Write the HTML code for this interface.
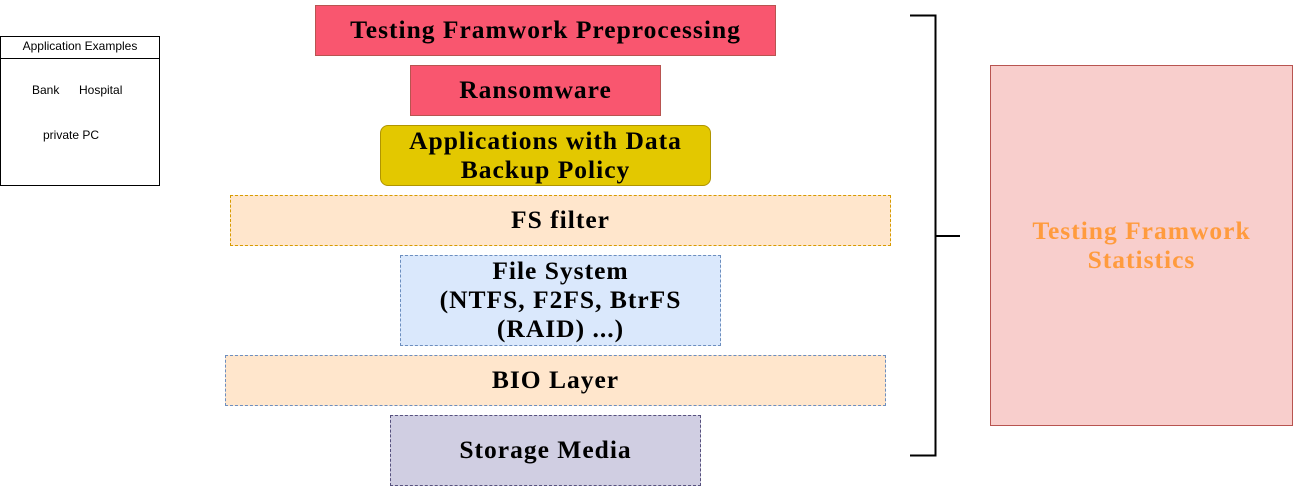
<!DOCTYPE html>
<html><head><style>
body{margin:0;width:1301px;height:486px;background:#fff;position:relative;overflow:hidden}
.b{position:absolute;box-sizing:border-box;display:flex;align-items:center;justify-content:center;text-align:center;font-family:"Liberation Serif",serif;font-weight:bold;font-size:25.5px;letter-spacing:1px;line-height:29px;color:#000;padding-bottom:2px}
.s{position:absolute;font-family:"Liberation Sans",sans-serif;font-size:12px;color:#000}
</style></head><body>
<div class="b" style="left:315px;top:5px;width:461px;height:51px;background:#f9566f;border:1px solid #b85450">Testing Framwork Preprocessing</div>
<div class="b" style="left:410px;top:65px;width:251px;height:51px;background:#f9566f;border:1px solid #b85450">Ransomware</div>
<div class="b" style="left:380px;top:125px;width:331px;height:61px;background:#e3c800;border:1px solid #b09500;border-radius:8px">Applications with Data<br>Backup Policy</div>
<div class="b" style="left:230px;top:195px;width:661px;height:51px;background:#ffe6cc;border:1px dashed #d79b00">FS filter</div>
<div class="b" style="left:400px;top:255px;width:321px;height:91px;background:#dae8fc;border:1px dashed #6c8ebf">File System<br>(NTFS, F2FS, BtrFS<br>(RAID) ...)</div>
<div class="b" style="left:225px;top:355px;width:661px;height:51px;background:#ffe6cc;border:1px dashed #6c8ebf">BIO Layer</div>
<div class="b" style="left:390px;top:415px;width:311px;height:71px;background:#d0cee2;border:1px dashed #56517e">Storage Media</div>
<div class="b" style="left:990px;top:65px;width:303px;height:361px;background:#f8cecc;border:1px solid #b85450;color:#ff9b3d">Testing Framwork<br>Statistics</div>
<svg style="position:absolute;left:0;top:0" width="1301" height="486">
<path d="M910 15.5H935.5V455.5H910M935.5 236H960" fill="none" stroke="#000" stroke-width="2"/>
<rect x="0.5" y="36.5" width="159" height="149" fill="#fff" stroke="#000"/>
<line x1="0.5" y1="58.5" x2="159.5" y2="58.5" stroke="#000"/>
</svg>
<div class="s" style="left:0;top:39px;width:160px;text-align:center">Application Examples</div>
<div class="s" style="left:32px;top:83px">Bank</div>
<div class="s" style="left:79px;top:83px">Hospital</div>
<div class="s" style="left:43px;top:128px">private PC</div>
</body></html>
